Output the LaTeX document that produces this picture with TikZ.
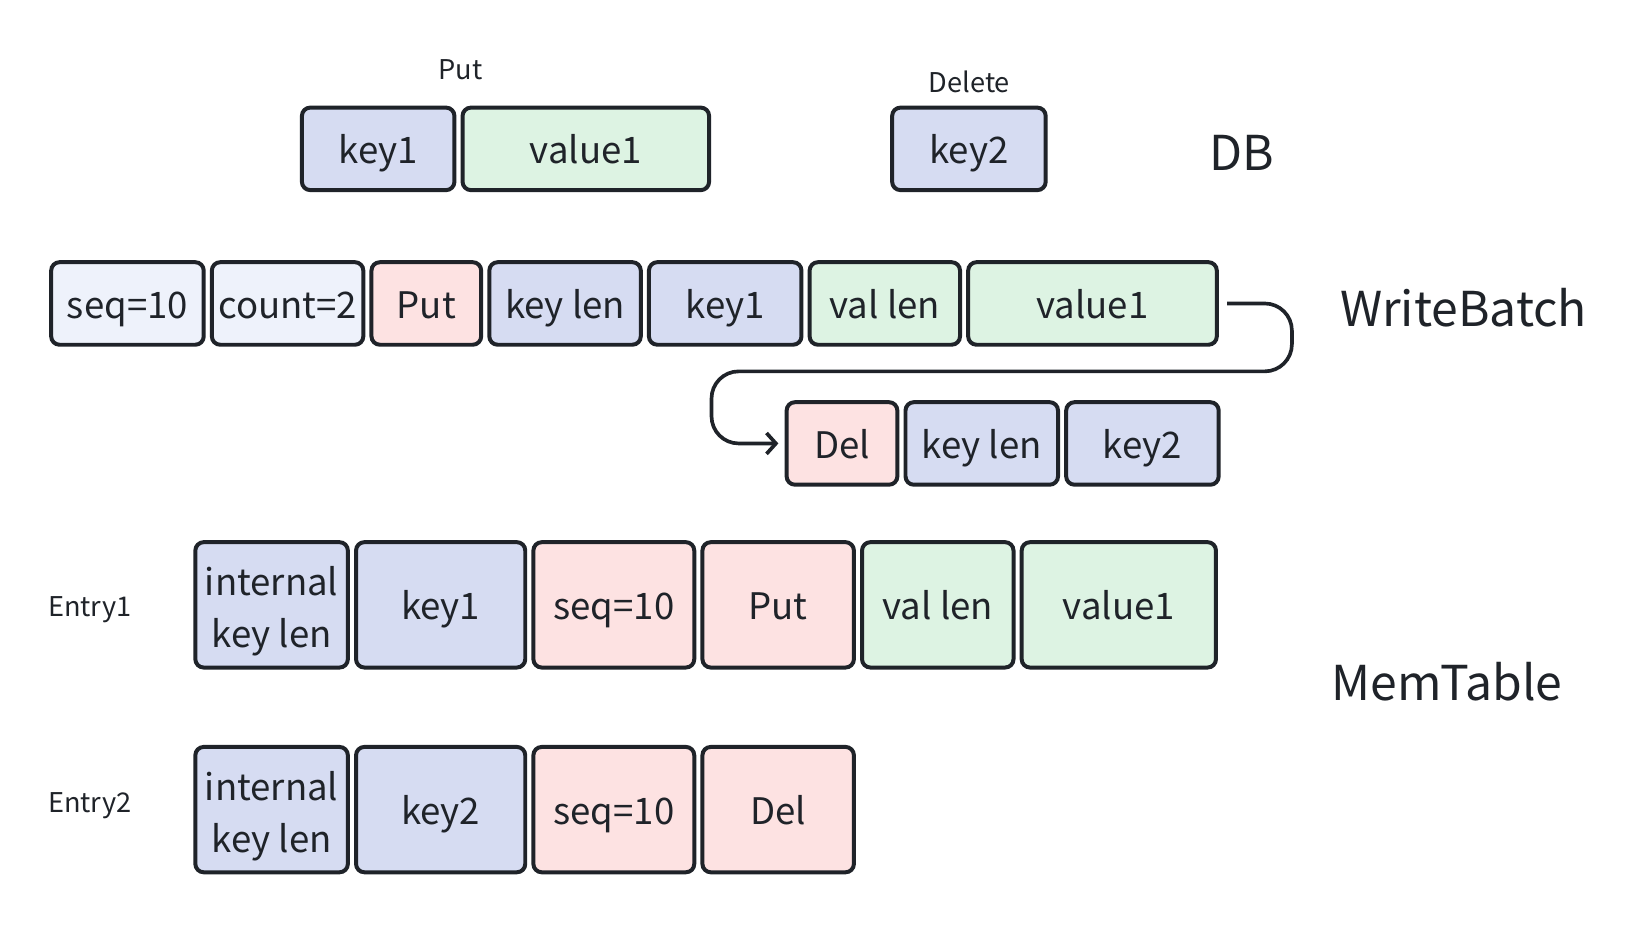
\documentclass[tikz,border=0pt]{standalone}
\usepackage{fontspec}
\setmainfont{Noto Sans CJK SC}
\usetikzlibrary{positioning, arrows.meta}
\definecolor{ink}{HTML}{1F2329}
\definecolor{keyblue}{HTML}{D6DCF2}
\definecolor{valgreen}{HTML}{DDF3E3}
\definecolor{oppink}{HTML}{FDE2E2}
\definecolor{hdrblue}{HTML}{EEF2FB}
\tikzset{
x=1pt, y=-1pt, % one unit is one pixel of the sketch, y runs downwards
node distance=4pt, % gap between two fields of one record
field/.style={draw=ink, line width=3.8pt, rounded corners=8pt, text=ink,
  minimum height=79pt, inner sep=0pt, text height=32pt, text depth=4pt,
  font=\fontsize{35}{50}\selectfont}, % sets the properties for each field
keyf/.style={field, fill=keyblue},
valf/.style={field, fill=valgreen},
opf/.style={field, fill=oppink},
hdrf/.style={field, fill=hdrblue},
tall/.style={minimum height=120pt},
twoline/.style={align=center, text height=, text depth=}, % natural size for two lines
small/.style={text=ink, font=\fontsize{26}{30}\selectfont},
big/.style={text=ink, font=\fontsize{46}{56}\selectfont},
flow/.style={draw=ink, line width=3.5pt, rounded corners=26pt, -{Straight Barb[length=9pt, width=20pt, line width=3.5pt]}},
}
\newcommand{\ikl}{\rule{0pt}{40pt}internal\\key len} % two line field text, pushed down a little
\begin{document}
\begin{tikzpicture}
\useasboundingbox[fill=white] (0,0) rectangle (1568,886);
% DB
\node[keyf, minimum width=146pt] (dk1) at (362,142.5) {key1};
\node[valf, minimum width=236pt, right=of dk1] (dv1) {value1};
\node[keyf, minimum width=147pt] (dk2) at (927.5,142.5) {key2};
\node[small] (lput) at (441,67) {Put};
\node[small] (ldel) at (928,78) {Delete};
\node[big] (ldb) at (1189,146) {DB};
% WriteBatch
\node[hdrf, minimum width=146pt] (wseq) at (122,290.5) {seq=10};
\node[hdrf, minimum width=145pt, right=of wseq] (wcnt) {count=2};
\node[opf, minimum width=105pt, right=of wcnt] (wput) {Put};
\node[keyf, minimum width=145pt, right=of wput] (wkl1) {key len};
\node[keyf, minimum width=146pt, right=of wkl1] (wk1) {key1};
\node[valf, minimum width=144pt, right=of wk1] (wvl) {val len};
\node[valf, minimum width=238pt, right=of wvl] (wv1) {value1};
\node[opf, minimum width=106pt] (wdel) at (806,424.5) {Del};
\node[keyf, minimum width=146pt, right=of wdel] (wkl2) {key len};
\node[keyf, minimum width=146pt, right=of wkl2] (wk2) {key2};
\node[big] (lwb) at (1401,295) {WriteBatch};
\draw[flow] ([xshift=8pt]wv1.east) -- ++(62,0) -- ++(0,65) -| ([xshift=-70pt]wdel.west) -- ([xshift=-6pt]wdel.west);
% MemTable
\node[keyf, tall, twoline, minimum width=146pt] (m1ikl) at (260,579) {\ikl};
\node[keyf, tall, minimum width=162pt, right=of m1ikl] (m1k) {key1};
\node[opf, tall, minimum width=154pt, right=of m1k] (m1seq) {seq=10};
\node[opf, tall, minimum width=145pt, right=of m1seq] (m1put) {Put};
\node[valf, tall, minimum width=145pt, right=of m1put] (m1vl) {val len};
\node[valf, tall, minimum width=186pt, right=of m1vl] (m1v) {value1};
\node[keyf, tall, twoline, minimum width=146pt] (m2ikl) at (260,775) {\ikl};
\node[keyf, tall, minimum width=162pt, right=of m2ikl] (m2k) {key2};
\node[opf, tall, minimum width=154pt, right=of m2k] (m2seq) {seq=10};
\node[opf, tall, minimum width=145pt, right=of m2seq] (m2del) {Del};
\node[small] (le1) at (86,584) {Entry1};
\node[small] (le2) at (86,771) {Entry2};
\node[big] (lmt) at (1385,653) {MemTable};
\end{tikzpicture}
\end{document}
